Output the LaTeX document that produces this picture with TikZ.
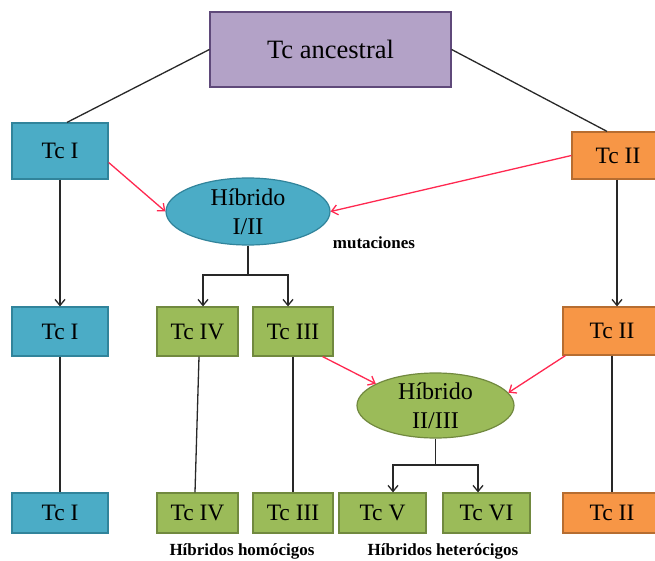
\documentclass[tikz,border=0pt]{standalone}
\usepackage{fontspec}
\setmainfont{Liberation Serif}
\usetikzlibrary{arrows.meta,shapes.geometric,calc}
\definecolor{bluef}{RGB}{75,172,198}
\definecolor{blued}{RGB}{49,132,155}
\definecolor{orangef}{RGB}{247,150,70}
\definecolor{oranged}{RGB}{182,109,49}
\definecolor{greenf}{RGB}{155,187,89}
\definecolor{greend}{RGB}{113,137,63}
\definecolor{purplef}{RGB}{179,162,199}
\definecolor{purpled}{RGB}{95,73,122}
\definecolor{redl}{RGB}{255,40,80}
\definecolor{darkl}{RGB}{40,40,40}
\begin{document}
\begin{tikzpicture}[x=1pt,y=-1pt,
  box/.style={draw, line width=1.2pt, inner sep=0pt, font=\fontsize{23.5}{27}\selectfont},
  bluebox/.style={box, fill=bluef, draw=blued},
  orangebox/.style={box, fill=orangef, draw=oranged},
  greenbox/.style={box, fill=greenf, draw=greend},
  hyb/.style={ellipse, draw, line width=1.2pt, inner sep=0pt, align=center, font=\fontsize{24}{29}\selectfont},
  lbl/.style={font=\fontsize{17}{20}\selectfont\bfseries, inner sep=0pt},
  blk/.style={draw=darkl, line width=1.3pt},
  blkarr/.style={blk, -{Straight Barb[length=6pt,width=10pt]}},
  redarr/.style={draw=redl, line width=1.3pt, -{Straight Barb[length=6pt,width=10pt]}}]
\useasboundingbox (0,0) rectangle (655,561);
\fill[white] (0,0) rectangle (655,561);

\node[box, fill=purplef, draw=purpled, minimum width=241pt, minimum height=75pt, font=\fontsize{26.5}{30}\selectfont] (anc) at (330.5,49.5) {Tc ancestral};

\node[bluebox, minimum width=96pt, minimum height=56pt] (tc1a) at (60,151) {Tc I};
\node[orangebox, minimum width=92pt, minimum height=47pt] (tc2a) at (618,155.5) {Tc II};

\node[hyb, fill=bluef, draw=blued, minimum width=164pt, minimum height=67pt] (h1) at (248,211.5) {Híbrido\\I/II};
\node[lbl] (mut) at (374,243) {mutaciones};

\node[bluebox, minimum width=96pt, minimum height=49pt] (tc1b) at (60,331.5) {Tc I};
\node[greenbox, minimum width=81pt, minimum height=49pt] (tc4b) at (197.5,331.5) {Tc IV};
\node[greenbox, minimum width=80pt, minimum height=49pt] (tc3b) at (293,331.5) {Tc III};
\node[orangebox, minimum width=98pt, minimum height=48pt] (tc2b) at (612,331) {Tc II};

\node[hyb, fill=greenf, draw=greend, minimum width=157pt, minimum height=65pt] (h2) at (435.5,405.5) {Híbrido\\II/III};

\node[bluebox, minimum width=96pt, minimum height=40pt] (tc1c) at (60,513) {Tc I};
\node[greenbox, minimum width=81pt, minimum height=40pt] (tc4c) at (197.5,513) {Tc IV};
\node[greenbox, minimum width=80pt, minimum height=40pt] (tc3c) at (293,513) {Tc III};
\node[greenbox, minimum width=87pt, minimum height=40pt] (tc5c) at (382.5,513) {Tc V};
\node[greenbox, minimum width=87pt, minimum height=40pt] (tc6c) at (486.5,513) {Tc VI};
\node[orangebox, minimum width=98pt, minimum height=40pt] (tc2c) at (612,513) {Tc II};

\node[lbl] (lhom) at (242,551) {Híbridos homócigos};
\node[lbl] (lhet) at (443,551) {Híbridos heterócigos};

% ancestral links
\draw[blk] (anc.west) -- ($(tc1a.north)+(7,0)$);
\draw[blk] (anc.east) -- ($(tc2a.north)+(-11,0)$);

% red hybridisation arrows
\draw[redarr] ($(tc1a.north east)!0.7!(tc1a.south east)$) -- (h1.west);
\draw[redarr] (tc2a.west) -- (h1.east);
\draw[redarr] ($(tc3b.south east)+(-11,0)$) -- (h2.160);
\draw[redarr] ($(tc2b.south west)+(3,0)$) -- (h2.10);

% vertical lineages
\draw[blkarr] (tc1a.south) -- (tc1b.north);
\draw[blkarr] ($(tc2a.south)+(-1,0)$) -- ($(tc2b.north)+(5,0)$);
\draw[blk] (tc1b.south) -- (tc1c.north);
\draw[blk] ($(tc4b.south)+(1.5,0)$) -- ($(tc4c.north)+(-2.5,0)$);
\draw[blk] (tc3b.south) -- (tc3c.north);
\draw[blk] (tc2b.south) -- (tc2c.north);

% branchings
\coordinate (j1) at (248,275);
\draw[blk] (h1.south) -- (j1);
\draw[blkarr] (j1) -| ($(tc4b.north)+(5.5,0)$);
\draw[blkarr] (j1) -| ($(tc3b.north)+(-5,0)$);

\coordinate (j2) at (435.5,465);
\draw[blk] (h2.south) -- (j2);
\draw[blkarr] (j2) -| ($(tc5c.north)+(10.5,0)$);
\draw[blkarr] (j2) -| ($(tc6c.north)+(-8.5,0)$);
\end{tikzpicture}
\end{document}
